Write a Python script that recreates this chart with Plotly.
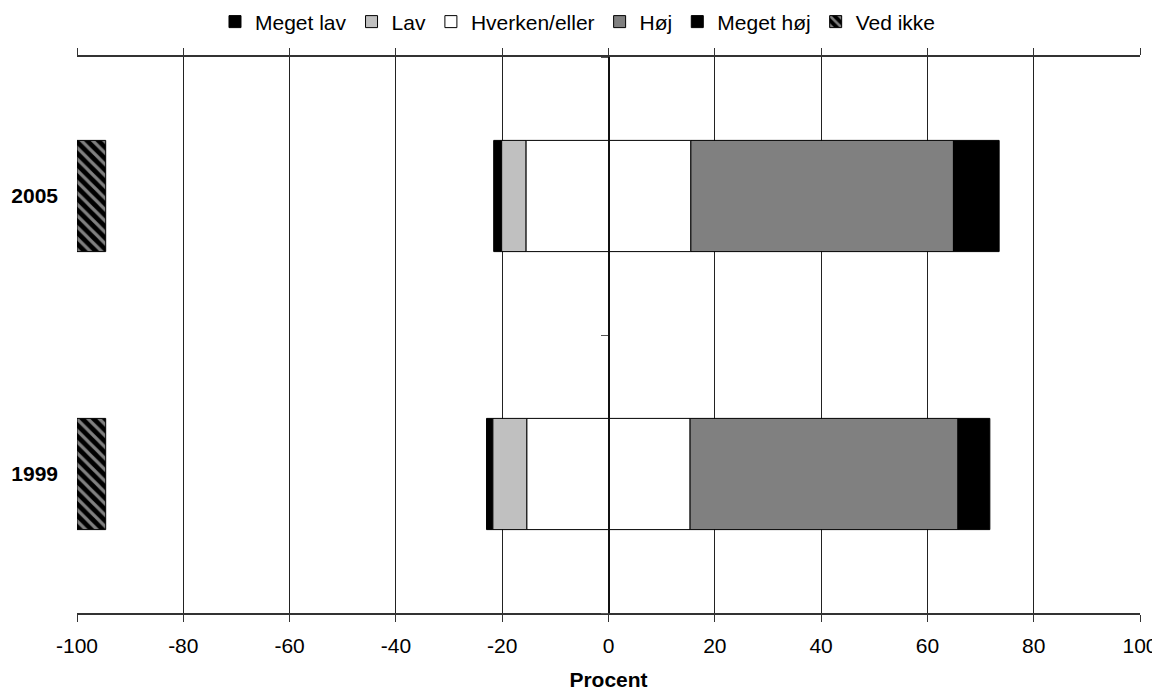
import plotly.graph_objects as go

years = ["2005", "1999"]
meget_lav = [1.5, 1.2]
lav = [4.6, 6.4]
hverken = [31.0, 30.7]
hoej = [49.4, 50.4]
meget_hoej = [8.6, 6.0]
ved_ikke = [5.4, 5.4]

x_ticks = [-100, -80, -60, -40, -20, 0, 20, 40, 60, 80, 100]
x_tick_text = ["-100", "-80", "-60", "-40", "-20", "0", "20", "40", "60", "80", "100"]

FONT = "Liberation Sans, Arial, sans-serif"
line = dict(color="black", width=1)

half = [h / 2 for h in hverken]
lav_base = [-(h + l) for h, l in zip(half, lav)]
ml_base = [b - m for b, m in zip(lav_base, meget_lav)]
hoej_base = half
mh_base = [h + j for h, j in zip(half, hoej)]

fig = go.Figure()
fig.add_trace(go.Bar(name="Meget lav", y=years, x=meget_lav, base=ml_base, orientation="h",
                     marker=dict(color="black", line=line), legendrank=1))
fig.add_trace(go.Bar(name="Lav", y=years, x=lav, base=lav_base, orientation="h",
                     marker=dict(color="#C0C0C0", line=line), legendrank=2))
fig.add_trace(go.Bar(name="Hverken/eller", y=years, x=half, base=[-h for h in half], orientation="h",
                     marker=dict(color="white", line=line), legendgroup="hv", legendrank=3))
fig.add_trace(go.Bar(name="Hverken/eller", y=years, x=half, base=[0, 0], orientation="h",
                     marker=dict(color="white", line=line), legendgroup="hv", showlegend=False))
fig.add_trace(go.Bar(name="Høj", y=years, x=hoej, base=hoej_base, orientation="h",
                     marker=dict(color="#808080", line=line), legendrank=4))
fig.add_trace(go.Bar(name="Meget høj", y=years, x=meget_hoej, base=mh_base, orientation="h",
                     marker=dict(color="black", line=line), legendrank=5))
fig.add_trace(go.Bar(name="Ved ikke", y=years, x=ved_ikke, base=[-100, -100], orientation="h",
                     marker=dict(color="black", line=line,
                                 pattern=dict(shape="\\", fgcolor="white", bgcolor="black",
                                              size=8, solidity=0.4)), legendrank=6))
# invisible trace to carry the centre category axis (line at x=0, tick between categories)
fig.add_trace(go.Bar(y=years, x=[0, 0], orientation="h", yaxis="y2", showlegend=False,
                     marker=dict(color="rgba(0,0,0,0)"), hoverinfo="skip"))

# the page body adds an 8px offset; size and margins compensate so the plot sits where the reference has it
fig.update_layout(
    width=1152, height=683,
    barmode="overlay",
    bargap=0.6,
    plot_bgcolor="white", paper_bgcolor="white",
    margin=dict(l=69, r=20, t=49, b=78, autoexpand=False),
    font=dict(family=FONT, size=21, color="black"),
    showlegend=True,
    legend=dict(orientation="h", x=0.4713, xanchor="center", y=1.063, yanchor="middle",
                font=dict(size=21), traceorder="normal", itemwidth=30,
                tracegroupgap=0, bgcolor="rgba(0,0,0,0)"),
    xaxis=dict(range=[-100, 100], tickvals=x_ticks, ticktext=x_tick_text, ticks="outside", ticklen=7,
               tickcolor="#333", showline=True, linecolor="#333", linewidth=1.5, mirror="ticks",
               showgrid=True, gridcolor="#222", gridwidth=1, zeroline=True, zerolinecolor="#222",
               zerolinewidth=1.5, tickfont=dict(size=21), automargin=False, ticklabelstandoff=6,
               title=dict(text="<b>Procent</b>", font=dict(size=21), standoff=17)),
    yaxis=dict(type="category", categoryorder="array", categoryarray=["1999", "2005"],
               showgrid=False, ticks="", showline=False, zeroline=False, automargin=False,
               tickfont=dict(size=21), ticklabelstandoff=18,
               tickvals=years, ticktext=["<b>%s</b>" % y for y in years]),
    yaxis2=dict(type="category", categoryorder="array", categoryarray=["1999", "2005"],
                overlaying="y", anchor="free", position=0.5, matches="y", automargin=False,
                showticklabels=False, ticks="outside", ticklen=7, tickcolor="#555",
                tickson="boundaries", showgrid=False, showline=True, linecolor="#111",
                linewidth=1.5, layer="above traces", zeroline=False),
)

fig.write_html("out.html")
